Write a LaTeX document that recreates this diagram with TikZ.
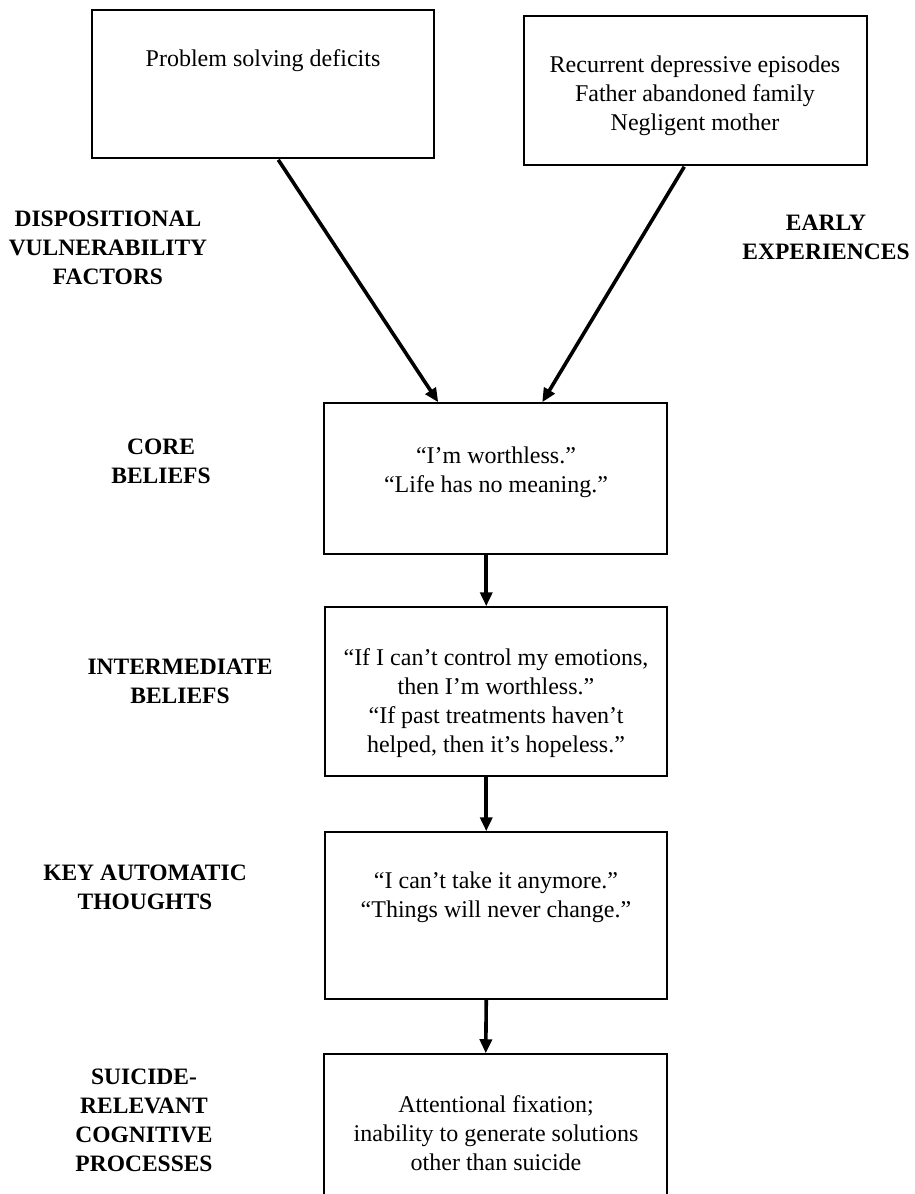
\documentclass[tikz,border=0pt]{standalone}
\usepackage{fontspec}
\setmainfont{Liberation Serif}
\usetikzlibrary{arrows.meta,calc}
\begin{document}
\begin{tikzpicture}[x=1pt,y=-1pt,
  box/.style={draw, line width=1.5pt, inner sep=0pt},
  txt/.style={font=\fontsize{24}{29}\selectfont, align=center, inner sep=0pt},
  lbl/.style={font=\bfseries\fontsize{23.5}{29}\selectfont, align=center, inner sep=0pt},
  arr/.style={line width=3.6pt, -{Triangle[length=14pt,width=12pt]}}]
\useasboundingbox (0,0) rectangle (915,1194);
\clip (0,0) rectangle (915,1194);
% boxes
\node[box, minimum width=342pt, minimum height=148pt] (tl) at (263,84) {};
\node[box, minimum width=343pt, minimum height=149pt] (tr) at (695.5,90.5) {};
\node[box, minimum width=343pt, minimum height=151pt] (core) at (495.5,478.5) {};
\node[box, minimum width=342pt, minimum height=169pt] (inter) at (496,691.5) {};
\node[box, minimum width=342pt, minimum height=167pt] (key) at (496,915.5) {};
\node[box, minimum width=343pt, minimum height=160pt] (sui) at (495.5,1134) {};
% box texts
\node[txt] (tltext) at (263,61) {Problem solving deficits};
\node[txt] (trtext) at (695,96) {Recurrent depressive episodes\\Father abandoned family\\Negligent mother};
\node[txt] (coretext) at (496,472) {“I’m worthless.”\\“Life has no meaning.”};
\node[txt] (intertext) at (496,703) {“If I can’t control my emotions,\\then I’m worthless.”\\“If past treatments haven’t\\helped, then it’s hopeless.”};
\node[txt] (keytext) at (496,897) {“I can’t take it anymore.”\\“Things will never change.”};
\node[txt] (suitext) at (496,1133) {Attentional fixation;\\inability to generate solutions\\other than suicide};
% labels
\node[lbl] (l1) at (108,248) {DISPOSITIONAL\\VULNERABILITY\\FACTORS};
\node[lbl] (l2) at (826,237) {EARLY\\EXPERIENCES};
\node[lbl] (l3) at (161,461) {CORE\\BELIEFS};
\node[lbl] (l4) at (180,681) {INTERMEDIATE\\BELIEFS};
\node[lbl] (l5) at (145,887) {KEY AUTOMATIC\\THOUGHTS};
\node[lbl] (l6) at (144,1120) {SUICIDE-\\RELEVANT\\COGNITIVE\\PROCESSES};
% arrows
\draw[arr] ($(tl.south west)+(187,1)$) -- ($(core.north west)+(115,0)$);
\draw[arr] ($(tr.south west)+(161,1)$) -- ($(core.north west)+(219,0)$);
\draw[arr] ($(core.south west)+(163,0)$) -- ($(inter.north west)+(162,0)$);
\draw[arr] ($(inter.south west)+(162,0)$) -- ($(key.north west)+(162,0)$);
\draw[arr] ($(key.south west)+(162,0)$) -- ($(sui.north west)+(162.5,0)$);
\end{tikzpicture}
\end{document}
